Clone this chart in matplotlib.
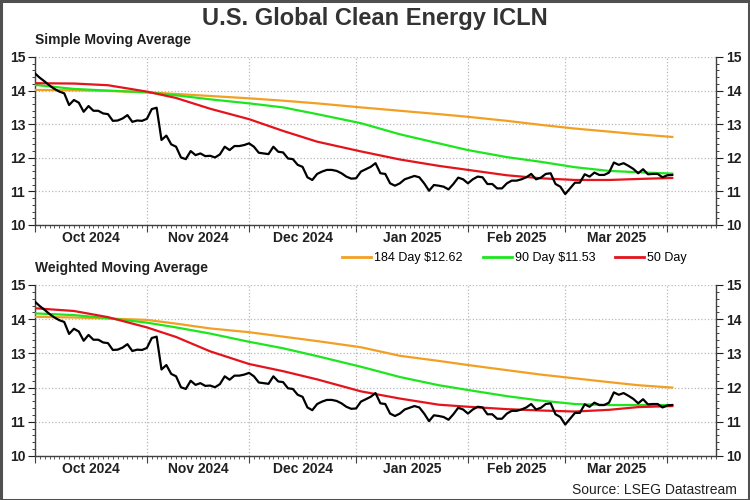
import numpy as np
import pandas as pd
import matplotlib
matplotlib.use("Agg")
import matplotlib.pyplot as plt
from matplotlib.ticker import MultipleLocator, FixedLocator, NullFormatter
from matplotlib.lines import Line2D
from matplotlib.patches import Rectangle

plt.rcParams['font.family'] = ['Liberation Sans', 'DejaVu Sans']

# ICLN closing price, one value per weekday from 1 Oct 2024
price = [14.51, 14.38, 14.27, 14.15, 14.05, 13.97, 13.92, 13.57, 13.72, 13.64,
         13.37, 13.54, 13.40, 13.40, 13.32, 13.30, 13.10, 13.11, 13.17, 13.27,
         13.07, 13.11, 13.10, 13.16, 13.45, 13.49, 12.53, 12.66, 12.40, 12.33,
         12.01, 11.96, 12.20, 12.08, 12.13, 12.05, 12.06, 12.01, 12.10, 12.33,
         12.23, 12.35, 12.35, 12.38, 12.43, 12.33, 12.15, 12.13, 12.11, 12.33,
         12.18, 12.16, 11.98, 11.96, 11.79, 11.73, 11.42, 11.34, 11.52, 11.59,
         11.64, 11.64, 11.61, 11.54, 11.44, 11.38, 11.39, 11.59, 11.66, 11.73,
         11.84, 11.54, 11.52, 11.24, 11.17, 11.24, 11.36, 11.41, 11.46, 11.42,
         11.24, 11.02, 11.19, 11.17, 11.14, 11.06, 11.22, 11.41, 11.36, 11.24,
         11.36, 11.44, 11.42, 11.22, 11.22, 11.09, 11.09, 11.24, 11.32, 11.32,
         11.36, 11.42, 11.52, 11.36, 11.41, 11.52, 11.54, 11.22, 11.14, 10.92,
         11.09, 11.26, 11.26, 11.51, 11.44, 11.56, 11.49, 11.49, 11.56, 11.86,
         11.79, 11.84, 11.76, 11.67, 11.54, 11.66, 11.51, 11.52, 11.52, 11.42,
         11.48, 11.49]

# moving averages, sampled at these dates
ma_dates = ["2024-10-01", "2024-10-11", "2024-10-22", "2024-11-01", "2024-11-11",
            "2024-11-20", "2024-12-02", "2024-12-11", "2024-12-20", "2025-01-02",
            "2025-01-14", "2025-01-24", "2025-02-03", "2025-02-13", "2025-02-24",
            "2025-03-05", "2025-03-14", "2025-03-24", "2025-04-02"]

sma_184 = [14.02, 14.01, 13.99, 13.95, 13.90, 13.84, 13.77, 13.70, 13.62, 13.50,
           13.40, 13.30, 13.22, 13.10, 12.98, 12.87, 12.78, 12.70, 12.62]
sma_90 = [14.17, 14.05, 14.00, 13.95, 13.86, 13.74, 13.62, 13.50, 13.30, 13.03,
          12.70, 12.43, 12.23, 12.02, 11.88, 11.72, 11.61, 11.57, 11.53]
sma_50 = [14.22, 14.21, 14.16, 13.97, 13.78, 13.46, 13.15, 12.80, 12.48, 12.19,
          11.95, 11.76, 11.64, 11.48, 11.39, 11.34, 11.34, 11.37, 11.40]

wma_184 = [14.07, 14.05, 14.02, 13.98, 13.87, 13.73, 13.62, 13.49, 13.36, 13.18,
           12.93, 12.78, 12.66, 12.51, 12.38, 12.27, 12.16, 12.07, 12.00]
wma_90 = [14.17, 14.12, 14.03, 13.90, 13.76, 13.58, 13.34, 13.15, 12.92, 12.61,
          12.31, 12.07, 11.93, 11.75, 11.62, 11.52, 11.49, 11.49, 11.49]
wma_50 = [14.32, 14.24, 14.06, 13.76, 13.48, 13.06, 12.69, 12.48, 12.24, 11.89,
          11.68, 11.50, 11.44, 11.37, 11.33, 11.30, 11.35, 11.43, 11.46]

months = ["2024-10-01", "2024-11-01", "2024-12-01", "2025-01-01", "2025-02-01",
          "2025-03-01", "2025-04-01", "2025-05-01"]
month_labels = ["Oct 2024", "Nov 2024", "Dec 2024", "Jan 2025", "Feb 2025", "Mar 2025"]

start = np.datetime64("2024-10-01")


def wd(d):
    # position on a weekday axis
    return np.busday_count(start, np.array(d, dtype="datetime64[D]"))


x_price = np.arange(len(price))
x_ma = wd(ma_dates)
x_month = wd(months)
x_end = wd("2025-04-15")

orange = '#F2A024'
green = '#1EE61E'
red = '#E3141B'
dark = '#333333'

fig = plt.figure(figsize=(7.5, 5), dpi=100)
fig.patch.set_facecolor('white')
fig.patches.append(Rectangle((0.001, 0.001), 0.997, 0.997, transform=fig.transFigure,
                             fill=False, edgecolor='#505050', linewidth=2.2))

fig.text(0.5, 0.962, "U.S. Global Clean Energy ICLN", ha='center', va='center',
         fontsize=17, fontweight='bold', color=dark)

panels = [
    ([0.0467, 0.55, 0.908, 0.336], "Simple Moving Average", sma_184, sma_90, sma_50),
    ([0.0467, 0.088, 0.908, 0.342], "Weighted Moving Average", wma_184, wma_90, wma_50),
]

for rect, sub, m184, m90, m50 in panels:
    ax = fig.add_axes(rect)
    ax.set_xlim(0, x_end)
    ax.set_ylim(10, 15)
    ax.plot(x_ma, m184, color=orange, lw=1.6, zorder=3)
    ax.plot(x_ma, m90, color=green, lw=1.6, zorder=3)
    ax.plot(x_ma, m50, color=red, lw=1.6, zorder=3)
    ax.plot(x_price, price, color='black', lw=1.6, zorder=4)

    ax.spines['top'].set_visible(False)
    for s in ['left', 'right', 'bottom']:
        ax.spines[s].set_color('#404040')
        ax.spines[s].set_linewidth(1.0)

    ax.yaxis.set_major_locator(MultipleLocator(1))
    ax.yaxis.set_minor_locator(MultipleLocator(0.2))
    ax.tick_params(axis='y', which='both', left=True, right=True,
                   labelleft=True, labelright=True, direction='out',
                   labelsize=10, colors='#202020', pad=2)
    ax.tick_params(axis='y', which='major', length=5)
    ax.tick_params(axis='y', which='minor', length=2.5)
    for lab in ax.get_yticklabels():
        lab.set_fontweight('bold')

    ax.xaxis.set_major_locator(FixedLocator(x_month))
    ax.xaxis.set_minor_locator(MultipleLocator(1))
    ax.xaxis.set_major_formatter(NullFormatter())
    ax.tick_params(axis='x', which='major', direction='out', length=5, color='#404040')
    ax.tick_params(axis='x', which='minor', direction='out', length=2, width=0.6,
                   color='#404040')

    ax.grid(True, which='major', color='#b8b8b8', linestyle=':', linewidth=0.9)
    ax.set_axisbelow(True)

    for i, lab in enumerate(month_labels):
        xm = (x_month[i] + x_month[i + 1]) / 2
        ax.annotate(lab, (xm, 0), xycoords=ax.get_xaxis_transform(),
                    xytext=(0, -9.5), textcoords='offset points',
                    ha='center', va='center', fontsize=10, fontweight='bold',
                    color='#202020')

    ax.text(0.0, 1.1, sub, transform=ax.transAxes, ha='left', va='center',
            fontsize=10, fontweight='bold', color='#202020')

handles = [Line2D([], [], color=orange, lw=2),
           Line2D([], [], color=green, lw=2),
           Line2D([], [], color=red, lw=2)]
fig.legend(handles, ["184 Day $12.62", "90 Day $11.53", "50 Day"],
           loc='center', bbox_to_anchor=(0.686, 0.484), ncol=3, frameon=False,
           fontsize=9, handlelength=2.3, handletextpad=0.25, columnspacing=1.6)

fig.text(0.983, 0.02, "Source: LSEG Datastream", ha='right', va='center',
         fontsize=10, color='#202020')

fig.savefig("out.png", dpi=100)
